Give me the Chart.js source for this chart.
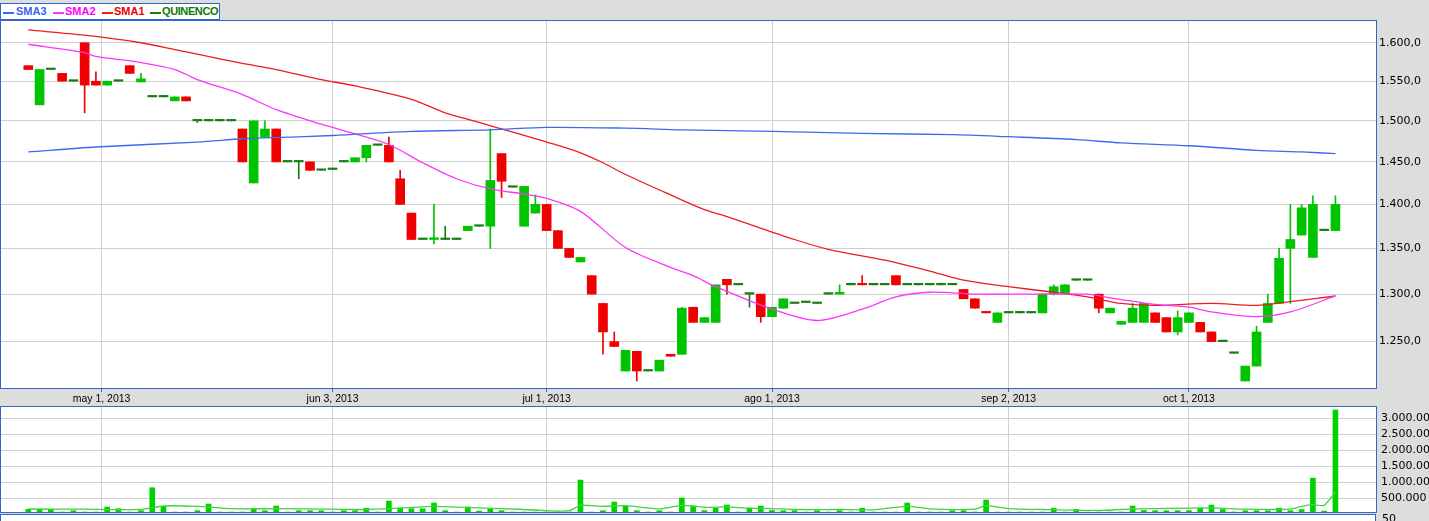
<!DOCTYPE html>
<html>
<head>
<meta charset="utf-8">
<script src="https://cdn.jsdelivr.net/npm/chart.js@4.4.1/dist/chart.umd.min.js"></script>
<style>
  html, body { margin: 0; padding: 0; background: #dcdedc; }
  body { width: 1429px; height: 521px; position: relative; overflow: hidden; }
  canvas { position: absolute; left: 0; }
  #main { top: 0; }
  #vol { top: 405px; }
  #legend { position: absolute; left: 0; top: 3px; width: 218px; height: 15px;
            background: #fff; border: 1px solid #3366cc; }
  #legend .sw { position: absolute; top: 8px; height: 1.5px; }
  #legend .lb { position: absolute; top: 1px; font: bold 11px "Liberation Sans", Arial, sans-serif; line-height: 13px; }
  #osc { position: absolute; left: 0; top: 514px; width: 1374px; height: 7px; background: #fff;
         border-top: 1px solid #3366cc; border-left: 1px solid #3366cc; border-right: 1px solid #3366cc; }
  #osc50 { position: absolute; left: 1382px; top: 512px; font: 11px "DejaVu Sans", sans-serif; color: #000; }
</style>
</head>
<body>
<canvas id="main" width="1429" height="405"></canvas>
<canvas id="vol" width="1429" height="109"></canvas>
<div id="osc"></div>
<div id="osc50">50</div>
<div id="legend">
  <span class="sw" style="left:2px;width:11px;background:#3a6af0"></span>
  <span class="lb" style="left:15px;color:#3a62f0">SMA3</span>
  <span class="sw" style="left:52px;width:11px;background:#ff33ff"></span>
  <span class="lb" style="left:64px;color:#ff00ff">SMA2</span>
  <span class="sw" style="left:101px;width:11px;background:#ee1c1c"></span>
  <span class="lb" style="left:113px;color:#f00000">SMA1</span>
  <span class="sw" style="left:149px;width:11px;background:#147d14"></span>
  <span class="lb" style="left:161px;color:#0a7a0a;letter-spacing:-0.4px">QUINENCO</span>
</div>
<script>
// x positions are trading-day indices (0 = first candle)
const xTickPos = [6.5, 27, 46, 66, 87, 103];
const xTickLabels = ['may 1, 2013', 'jun 3, 2013', 'jul 1, 2013', 'ago 1, 2013', 'sep 2, 2013', 'oct 1, 2013'];
const priceTicks = [1250, 1300, 1350, 1400, 1450, 1500, 1550, 1600];
const volumeTicks = [500000, 1000000, 1500000, 2000000, 2500000, 3000000];

const opens = [
  1570, 1520, 1565, 1560, 1550, 1600, 1550, 1545, 1550, 1570,
  1549, 1530, 1530, 1525, 1530, 1500, 1500, 1500, 1500, 1490,
  1425, 1480, 1490, 1450, 1450, 1450, 1440, 1441, 1450, 1450,
  1455, 1470, 1470, 1430, 1390, 1360, 1360, 1360, 1360, 1370,
  1375, 1375, 1460, 1420, 1375, 1390, 1400, 1370, 1350, 1335,
  1320, 1290, 1250, 1220, 1240, 1220, 1220, 1237, 1237, 1286,
  1270, 1270, 1316, 1310, 1300, 1300, 1276, 1285, 1290, 1291,
  1290, 1300, 1300, 1310, 1311, 1310, 1310, 1320, 1310, 1310,
  1310, 1310, 1310, 1305, 1295, 1281, 1270, 1280, 1280, 1280,
  1280, 1300, 1300, 1315, 1315, 1300, 1280, 1268, 1270, 1270,
  1280, 1275, 1260, 1270, 1270, 1260, 1250, 1238, 1210, 1225,
  1270, 1290, 1350, 1365, 1340, 1370, 1370
];
const highs = [
  1570, 1565, 1565, 1560, 1550, 1600, 1562, 1550, 1550, 1570,
  1560, 1530, 1530, 1530, 1530, 1500, 1500, 1500, 1500, 1490,
  1500, 1500, 1490, 1450, 1450, 1450, 1440, 1441, 1450, 1455,
  1470, 1470, 1480, 1440, 1390, 1360, 1400, 1375, 1360, 1375,
  1375, 1490, 1460, 1420, 1421, 1411, 1400, 1370, 1350, 1340,
  1320, 1290, 1260, 1241, 1240, 1221, 1231, 1237, 1286, 1286,
  1275, 1310, 1316, 1310, 1300, 1300, 1286, 1295, 1290, 1291,
  1290, 1300, 1310, 1310, 1320, 1310, 1310, 1320, 1310, 1310,
  1310, 1310, 1310, 1305, 1295, 1281, 1280, 1280, 1280, 1280,
  1300, 1310, 1310, 1315, 1315, 1300, 1285, 1271, 1290, 1290,
  1280, 1275, 1282, 1280, 1270, 1260, 1250, 1238, 1225, 1266,
  1300, 1350, 1400, 1400, 1410, 1370, 1410
];
const lows = [
  1565, 1520, 1565, 1550, 1550, 1510, 1545, 1545, 1550, 1560,
  1549, 1530, 1530, 1525, 1525, 1498, 1500, 1500, 1500, 1450,
  1425, 1480, 1450, 1450, 1430, 1440, 1440, 1441, 1450, 1450,
  1450, 1470, 1450, 1400, 1360, 1360, 1355, 1360, 1360, 1370,
  1375, 1350, 1408, 1420, 1375, 1390, 1370, 1350, 1340, 1335,
  1300, 1237, 1245, 1220, 1210, 1220, 1220, 1235, 1237, 1270,
  1270, 1270, 1300, 1310, 1286, 1270, 1276, 1285, 1290, 1291,
  1290, 1300, 1300, 1310, 1310, 1310, 1310, 1310, 1310, 1310,
  1310, 1310, 1310, 1295, 1285, 1280, 1270, 1280, 1280, 1280,
  1280, 1299, 1300, 1315, 1315, 1280, 1280, 1268, 1270, 1270,
  1270, 1260, 1257, 1270, 1260, 1250, 1250, 1238, 1210, 1225,
  1270, 1290, 1290, 1365, 1340, 1370, 1370
];
const closes = [
  1565, 1565, 1565, 1550, 1550, 1545, 1545, 1550, 1550, 1560,
  1553, 1530, 1530, 1530, 1525, 1500, 1500, 1500, 1500, 1450,
  1500, 1490, 1450, 1450, 1450, 1440, 1440, 1441, 1450, 1455,
  1470, 1470, 1450, 1400, 1360, 1360, 1362, 1360, 1360, 1375,
  1375, 1428, 1427, 1420, 1421, 1400, 1370, 1350, 1340, 1340,
  1300, 1260, 1245, 1241, 1220, 1220, 1231, 1235, 1285, 1270,
  1275, 1310, 1310, 1310, 1300, 1276, 1286, 1295, 1290, 1291,
  1290, 1300, 1302, 1310, 1310, 1310, 1310, 1310, 1310, 1310,
  1310, 1310, 1310, 1295, 1285, 1280, 1280, 1280, 1280, 1280,
  1300, 1308, 1310, 1315, 1315, 1285, 1285, 1271, 1285, 1290,
  1270, 1260, 1275, 1280, 1260, 1250, 1250, 1238, 1225, 1260,
  1290, 1339, 1360, 1396, 1400, 1370, 1400
];
const volumes = [
  156000, 156000, 156000, 70000, 112000, 70000, 70000, 228000, 175000, 70000,
  112000, 831000, 250000, 70000, 70000, 112000, 322000, 70000, 70000, 70000,
  175000, 112000, 260000, 70000, 112000, 112000, 112000, 70000, 112000, 112000,
  190000, 70000, 416000, 190000, 175000, 175000, 353000, 112000, 70000, 228000,
  100000, 175000, 112000, 70000, 70000, 70000, 70000, 70000, 70000, 1070000,
  70000, 112000, 384000, 260000, 112000, 70000, 112000, 70000, 509000, 260000,
  112000, 190000, 290000, 70000, 190000, 260000, 120000, 112000, 112000, 70000,
  112000, 70000, 112000, 70000, 190000, 70000, 70000, 70000, 353000, 70000,
  70000, 70000, 112000, 112000, 70000, 447000, 70000, 70000, 70000, 70000,
  70000, 190000, 70000, 150000, 70000, 70000, 70000, 70000, 260000, 120000,
  112000, 112000, 112000, 112000, 190000, 290000, 150000, 70000, 112000, 112000,
  112000, 190000, 112000, 150000, 1130000, 100000, 3260000
];

// moving averages at these candle indices
const sma1Idx = [0, 5, 10, 13, 15, 19, 22, 26, 29, 34, 37, 40, 43, 46, 49, 51, 53, 57, 60, 62, 68, 71, 76, 80, 83, 87, 91, 94, 97, 100, 105, 109, 112, 116];
const sma1 = [1617, 1610, 1600, 1591, 1585, 1573, 1565, 1552, 1544, 1527, 1510, 1498, 1486, 1474, 1461, 1449, 1435, 1411, 1394, 1386, 1360, 1349, 1337, 1325, 1315, 1308, 1302, 1297, 1290, 1288, 1290, 1288, 1292, 1298];
const sma2Idx = [0, 5, 6, 10, 13, 15, 19, 22, 26, 29, 32, 35, 38, 41, 44, 46, 49, 53, 57, 59, 61, 66, 70, 74, 77, 80, 84, 89, 94, 96, 100, 103, 105, 109, 112, 116];
const sma2 = [1598, 1587, 1582, 1574, 1565, 1552, 1533, 1514, 1496, 1484, 1471, 1449, 1430, 1418, 1412, 1407, 1392, 1351, 1329, 1320, 1308, 1284, 1272, 1284, 1297, 1302, 1300, 1300, 1300, 1296, 1289, 1286, 1281, 1276, 1281, 1298];
const sma3Idx = [0, 6, 15, 19, 21, 27, 34, 41, 46, 53, 58, 66, 74, 82, 87, 93, 97, 103, 109, 113, 116];
const sma3 = [1462, 1468, 1474, 1478, 1479, 1482, 1487, 1489, 1492, 1491, 1489, 1487, 1484.5, 1483, 1480.5, 1477, 1473, 1469.5, 1464, 1462, 1460];
const volAvgIdx = [0, 5, 10, 12, 15, 18, 22, 27, 30, 32, 36, 40, 44, 46, 48, 49, 51, 53, 56, 58, 60, 62, 64, 66, 68, 72, 75, 78, 80, 84, 85, 87, 90, 95, 98, 100, 105, 108, 112, 113, 114, 115, 116];
const volAvg = [166000, 160000, 150000, 260000, 250000, 175000, 175000, 160000, 150000, 175000, 250000, 200000, 150000, 112000, 112000, 280000, 250000, 270000, 170000, 280000, 220000, 230000, 190000, 180000, 150000, 150000, 140000, 250000, 170000, 160000, 270000, 180000, 150000, 120000, 170000, 180000, 200000, 160000, 160000, 250000, 300000, 280000, 700000];

const UP = '#00c400', DOWN = '#f00000', FLAT = '#147d14';
const BLUE_FRAME = '#3366cc', GRID = '#d0d0d0';
const X_MIN = -2.423, X_MAX = 119.6;

function fmt(v, dec) {
  const s = Math.round(v).toString().replace(/\B(?=(\d{3})+(?!\d))/g, '.');
  return dec ? s + ',0' : s;
}
function pts(xs, ys) {
  return xs.map((x, k) => ({ x: x, y: ys[k] }));
}

const idx = opens.map((_, i) => i);
const candleColors = idx.map(i => closes[i] > opens[i] ? UP : (closes[i] < opens[i] ? DOWN : FLAT));

const frame = {
  id: 'frame',
  beforeDraw(chart) {
    const { ctx, chartArea: a } = chart;
    ctx.save();
    ctx.fillStyle = '#fff';
    ctx.fillRect(a.left, a.top, a.right - a.left, a.bottom - a.top);
    ctx.restore();
  },
  afterDraw(chart) {
    const { ctx, chartArea: a } = chart;
    ctx.save();
    ctx.strokeStyle = BLUE_FRAME;
    ctx.lineWidth = 1;
    ctx.strokeRect(a.left - 0.5, a.top - 0.5, a.right - a.left + 1, a.bottom - a.top + 1);
    ctx.restore();
  }
};

// right-hand value axis with a fixed width and no extra label padding
function fixRight(s) {
  s.width = 53;
  s.paddingTop = 0;
  s.paddingBottom = 0;
}

const xAxis = (showLabels) => ({
  type: 'linear',
  min: X_MIN,
  max: X_MAX,
  offset: false,
  afterBuildTicks: s => { s.ticks = xTickPos.map(v => ({ value: v })); },
  afterFit: s => { s.height = showLabels ? 17 : 0; s.paddingLeft = 0; s.paddingRight = 0; },
  grid: { offset: false, color: GRID, drawTicks: showLabels, tickLength: 4, tickColor: BLUE_FRAME },
  border: { display: false },
  ticks: {
    display: showLabels,
    autoSkip: false,
    maxRotation: 0,
    padding: 1,
    color: '#000',
    font: { family: 'Liberation Sans', size: 10.5 },
    callback: (v, i) => xTickLabels[i]
  }
});

new Chart(document.getElementById('main'), {
  type: 'bar',
  data: {
    datasets: [
      { type: 'line', label: 'SMA3', data: pts(sma3Idx, sma3), borderColor: '#3a6af0', borderWidth: 1.3, pointRadius: 0, tension: 0.3, order: 0 },
      { type: 'line', label: 'SMA2', data: pts(sma2Idx, sma2), borderColor: '#ff33ff', borderWidth: 1.3, pointRadius: 0, tension: 0.3, order: 0 },
      { type: 'line', label: 'SMA1', data: pts(sma1Idx, sma1), borderColor: '#ee1c1c', borderWidth: 1.3, pointRadius: 0, tension: 0.3, order: 0 },
      { label: 'QUINENCO', data: idx.map(i => ({ x: i, y: [opens[i], closes[i]] })), backgroundColor: candleColors,
        barThickness: 9, minBarLength: 1.5, grouped: false, order: 1 },
      { label: 'wick', data: idx.map(i => ({ x: i, y: [lows[i], highs[i]] })), backgroundColor: candleColors,
        barThickness: 1, grouped: false, order: 2 }
    ]
  },
  options: {
    responsive: false,
    animation: false,
    layout: { padding: { top: 21, left: 1, right: 0, bottom: 0 } },
    plugins: { legend: { display: false }, tooltip: { enabled: false } },
    scales: {
      x: xAxis(true),
      y: {
        type: 'logarithmic',
        position: 'right',
        min: 1203,
        max: 1629,
        afterBuildTicks: s => { s.ticks = priceTicks.map(v => ({ value: v })); },
        afterFit: fixRight,
        grid: { color: GRID, drawTicks: false },
        border: { display: false },
        ticks: { padding: 3, color: '#000', font: { family: 'DejaVu Sans', size: 11 }, callback: v => fmt(v, 1) }
      }
    }
  },
  plugins: [frame]
});

new Chart(document.getElementById('vol'), {
  type: 'bar',
  data: {
    datasets: [
      { type: 'line', label: 'avg', data: pts(volAvgIdx, volAvg), borderColor: '#3fd33f', borderWidth: 1.3, pointRadius: 0, tension: 0.2, order: 0 },
      { label: 'volume', data: idx.map(i => ({ x: i, y: volumes[i] })), backgroundColor: '#00d200', barThickness: 5, grouped: false, order: 1 }
    ]
  },
  options: {
    responsive: false,
    animation: false,
    layout: { padding: { top: 2, left: 1, right: 0, bottom: 2 } },
    plugins: { legend: { display: false }, tooltip: { enabled: false } },
    scales: {
      x: xAxis(false),
      y: {
        position: 'right',
        min: 72000,
        max: 3353000,
        afterBuildTicks: s => { s.ticks = volumeTicks.map(v => ({ value: v })); },
        afterFit: fixRight,
        grid: { color: GRID, drawTicks: false },
        border: { display: false },
        ticks: { padding: 5, color: '#000', font: { family: 'DejaVu Sans', size: 11 }, callback: v => fmt(v, 0) }
      }
    }
  },
  plugins: [frame]
});
</script>
</body>
</html>
